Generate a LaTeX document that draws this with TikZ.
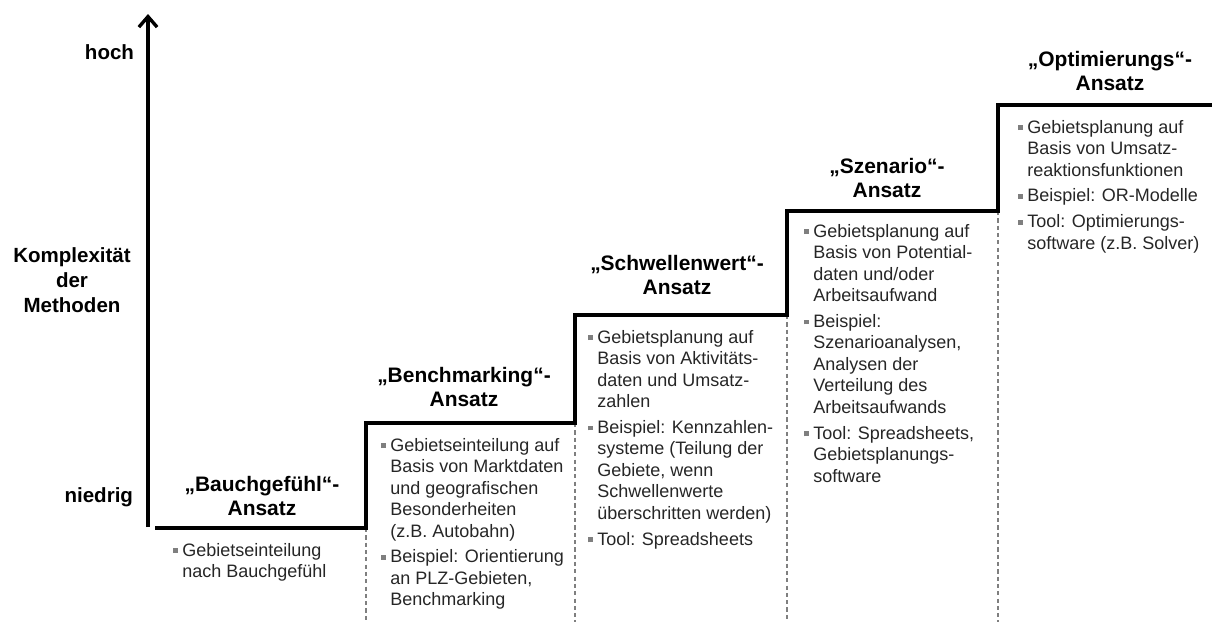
\documentclass[tikz,border=0pt]{standalone}
\usepackage{fontspec}
\setmainfont{Liberation Sans}
\usetikzlibrary{arrows.meta,positioning}

\definecolor{bulgray}{HTML}{7F7F7F}
\definecolor{txtgray}{HTML}{262626}
\newcommand{\itm}{\makebox[6.6pt][l]{\textcolor{bulgray}{\rule[0.3ex]{3.4pt}{3.4pt}}}}
\newcommand{\ind}{\hspace*{6.6pt}}

\begin{document}
\begin{tikzpicture}[x=0.025cm, y=-0.025cm,
            every node/.style={inner sep=0pt, outer sep=0pt},
            axis/.style={line width=2.8pt, -{Straight Barb[length=7.5pt, width=13pt, line width=2.4pt]}},
            stair/.style={line width=2.8pt, line join=miter},
            dashline/.style={draw=bulgray, line width=0.9pt, dash pattern=on 3pt off 2.2pt},
            axlabel/.style={font=\fontsize{14.6}{17.7}\selectfont\bfseries},
            title/.style={align=center, font=\fontsize{14.9}{17.7}\selectfont\bfseries},
            body/.style={anchor=north west, align=left, text=txtgray,
                         font=\fontsize{12.8}{15.3}\selectfont}]
        \useasboundingbox (0,0) rectangle (1212,639);

        % axis
        \coordinate (o) at (148,527);
        \coordinate (top) at (148,14);
        \draw[axis] (o) -- (top);
        \node[axlabel, anchor=east] (hoch) at (134,52) {hoch};
        \node[axlabel, align=center] (kompl) at (72,280) {Komplexit\"at\\der\\Methoden};
        \node[axlabel, anchor=east] (niedrig) at (133,497) {niedrig};

        % stairs
        \coordinate (s1) at (155,528);
        \coordinate (s2) at (366,423);
        \coordinate (s3) at (575,315);
        \coordinate (s4) at (787,211);
        \coordinate (s5) at (998,105);
        \coordinate (end) at (1212,105);
        \coordinate (bot) at (0,622);
        \foreach \s/\p in {s2/s1,s3/s2,s4/s3,s5/s4}
            \draw[dashline] (\s |- \p) -- (\s |- bot);
        \draw[stair] (s1) -| (s2) -| (s3) -| (s4) -| (s5) -- (end);

        % titles
        \node[title] (t1) at (262,496) {„Bauchgef\"uhl“-\\Ansatz};
        \node[title] (t2) at (464,387) {„Benchmarking“-\\Ansatz};
        \node[title] (t3) at (677,275) {„Schwellenwert“-\\Ansatz};
        \node[title] (t4) at (887,178) {„Szenario“-\\Ansatz};
        \node[title] (t5) at (1110,71) {„Optimierungs“-\\Ansatz};

        % bodies
        \node[body] (b1) at ([shift={(18,15)}]s1)
            {\itm Gebietseinteilung\\ \ind nach Bauchgef\"uhl};
        \node[body] (b2) at ([shift={(15,15)}]s2)
            {\itm Gebietseinteilung auf\\ \ind Basis von Marktdaten\\ \ind und geografischen\\
             \ind Besonderheiten\\ \ind (z.B. Autobahn)\\[3pt]
             \itm Beispiel: Orientierung\\ \ind an PLZ-Gebieten,\\ \ind Benchmarking};
        \node[body] (b3) at ([shift={(13,15)}]s3)
            {\itm Gebietsplanung auf\\ \ind Basis von Aktivit\"ats-\\ \ind daten und Umsatz-\\ \ind zahlen\\[3pt]
             \itm Beispiel: Kennzahlen-\\ \ind systeme (Teilung der\\ \ind Gebiete, wenn\\
             \ind Schwellenwerte\\ \ind \"uberschritten werden)\\[3pt]
             \itm Tool: Spreadsheets};
        \node[body] (b4) at ([shift={(17,13)}]s4)
            {\itm Gebietsplanung auf\\ \ind Basis von Potential-\\ \ind daten und/oder\\ \ind Arbeitsaufwand\\[3pt]
             \itm Beispiel:\\ \ind Szenarioanalysen,\\ \ind Analysen der\\ \ind Verteilung des\\
             \ind Arbeitsaufwands\\[3pt]
             \itm Tool: Spreadsheets,\\ \ind Gebietsplanungs-\\ \ind software};
        \node[body] (b5) at ([shift={(20,15)}]s5)
            {\itm Gebietsplanung auf\\ \ind Basis von Umsatz-\\ \ind reaktionsfunktionen\\[3pt]
             \itm Beispiel: OR-Modelle\\[3pt]
             \itm Tool: Optimierungs-\\ \ind software (z.B. Solver)};
\end{tikzpicture}
\end{document}
